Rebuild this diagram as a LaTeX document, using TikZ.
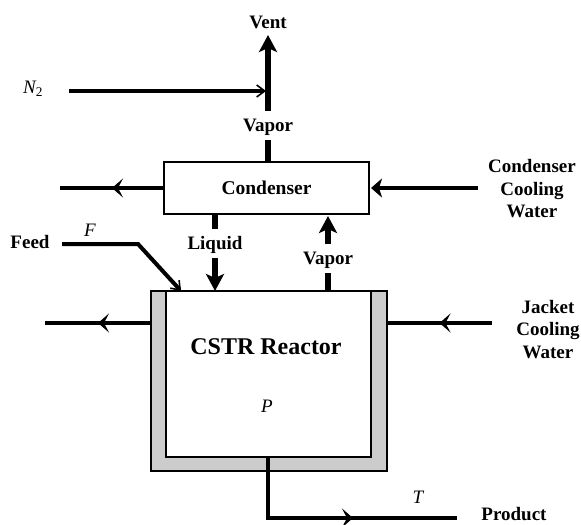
\documentclass[tikz,border=0pt]{standalone}
\usepackage{fontspec}
\setmainfont{Liberation Serif}
\usetikzlibrary{arrows.meta,decorations.markings}
\tikzset{
  lbl/.style={font=\bfseries\fontsize{19bp}{22.5bp}\selectfont,align=center,inner sep=0pt},
  var/.style={font=\itshape\fontsize{19bp}{20bp}\selectfont,inner sep=0pt},
  thick line/.style={line width=5.6bp},
  mid line/.style={line width=4bp},
  bigtip/.style={-{Stealth[length=17bp,width=18bp,inset=4bp]}},
  smalltip/.style={-{Straight Barb[length=8bp,width=12bp,line width=1.6bp]}},
  midflow/.style={postaction={decorate,decoration={markings,mark=at position #1 with {\arrow{Stealth[length=11bp,width=19bp,inset=5bp]}}}}},
  box/.style={draw=black,line width=1.8bp,fill=white,inner sep=0pt,outer sep=0pt},
}
\begin{document}
\begin{tikzpicture}[x=1bp,y=-1bp]
\useasboundingbox (0,0) rectangle (581,525);
% reactor
\node[box,fill=black!20,minimum width=236bp,minimum height=180bp,anchor=north west] (jacket) at (151,291) {};
\node[box,minimum width=205bp,minimum height=166bp,anchor=north west] (reactor) at (166,291) {};
\node[box,minimum width=205bp,minimum height=52bp,anchor=north west] (cond) at (164,162) {};
\node[font=\bfseries\fontsize{19.5bp}{22bp}\selectfont,inner sep=0pt] (condlabel) at (cond.center) {Condenser};
\node[font=\bfseries\fontsize{24bp}{28bp}\selectfont,inner sep=0pt] (cstr) at (266,347) {CSTR Reactor};
\node[var] (P) at (267,406) {P};
% labels
\node[lbl] (vent) at (268,22) {Vent};
\node[var] (n2) at (33,89) {N\textsubscript{\upshape 2}};
\node[lbl] (vaportop) at (268,127) {Vapor};
\node[lbl] (vaporlow) at (328,260) {Vapor};
\node[lbl] (liquid) at (215,245) {Liquid};
\node[lbl] (feed) at (30,242) {Feed};
\node[var] (F) at (90,230) {F};
\node[var] (T) at (418,497) {T};
\node[lbl] (product) at (514,514.5) {Product};
\node[lbl] (ccw) at (532,189) {Condenser\\Cooling\\Water};
\node[lbl] (jcw) at (548,329.5) {Jacket\\Cooling\\Water};
% coordinates
\coordinate (ventbase) at (268,111);
\coordinate (venttip) at (268,35);
\coordinate (junction) at (266,91);
\coordinate (n2start) at (69,91);
\coordinate (cleft) at (60,188);
\coordinate (cright) at (478,188);
\coordinate (feedstart) at (62,244);
\coordinate (feedbend) at (138,244);
\coordinate (feedend) at (181,291);
\coordinate (jleft) at (45,323);
\coordinate (jright) at (492,323);
\coordinate (prodbend) at (268,518);
\coordinate (prodend) at (457,518);
% connectors
\draw[thick line,bigtip] (ventbase) -- (venttip);
\draw[mid line,smalltip] (n2start) -- (junction);
\draw[thick line] (268,140) -- (268,162);
\draw[mid line,midflow=0.50] (cond.west |- 0,188) -- (cleft);
\draw[mid line,-{Stealth[length=11bp,width=19bp,inset=3bp]}] (cright) -- (371,188);
\draw[thick line] (215,214) -- (215,229);
\draw[thick line,bigtip] (215,258) -- (215,291);
\draw[thick line,bigtip] (328,244) -- (328,216);
\draw[thick line] (328,291) -- (328,273);
\draw[mid line,line join=miter,smalltip] (feedstart) -- (feedbend) -- (feedend);
\draw[mid line,midflow=0.50] (jacket.west |- 0,323) -- (jleft);
\draw[mid line,midflow=0.50] (jright) -- (jacket.east |- 0,323);
\draw[mid line,line join=miter,midflow=0.584] (268,457) -- (prodbend) -- (prodend);
\end{tikzpicture}
\end{document}
